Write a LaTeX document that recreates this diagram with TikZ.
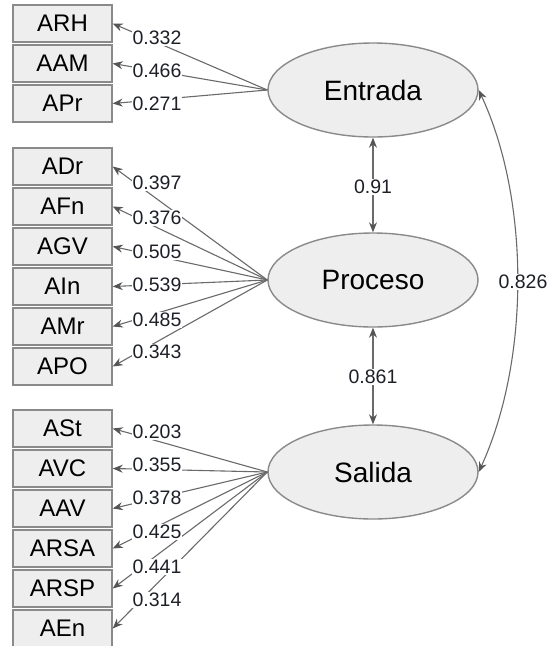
\documentclass[tikz,border=0pt]{standalone}
\usepackage{fontspec}
\setmainfont{Liberation Sans}
\usetikzlibrary{shapes.geometric,arrows.meta}
\definecolor{boxfill}{HTML}{EEEEEE}
\definecolor{boxline}{HTML}{8A8A8A}
\definecolor{edgeline}{HTML}{6A6A6A}
\definecolor{tipcol}{HTML}{555555}
\definecolor{labtext}{HTML}{1E2028}
\tikzset{
  obsbox/.style={draw=boxline, fill=boxfill, line width=1.4pt, rectangle,
    minimum width=99pt, minimum height=37pt, inner sep=0pt,
    font=\fontsize{24}{26}\selectfont, text=black},
  latent/.style={draw=boxline, fill=boxfill, line width=1.4pt, ellipse,
    minimum width=210pt, minimum height=94pt, inner sep=0pt,
    font=\fontsize{28}{30}\selectfont, text=black},
  load/.style={draw=edgeline, line width=1.1pt, -{Stealth[length=10pt,width=8pt,color=tipcol]}},
  cov/.style={draw=edgeline, line width=1.1pt, {Stealth[length=10pt,width=8pt,color=tipcol]}-{Stealth[length=10pt,width=8pt,color=tipcol]}},
  wlab/.style={fill=white, inner sep=0.8pt, text=labtext, font=\fontsize{19.5}{21}\selectfont}
}
\begin{document}
\begin{tikzpicture}[x=1pt,y=-1pt]
\useasboundingbox (0,0) rectangle (550,646);
\fill[white] (0,0) rectangle (550,646);
% latent variables
\node[latent] (ent) at (373,90) {Entrada};
\node[latent] (pro) at (373,280) {Proceso};
\node[latent] (sal) at (373,472) {Salida};
% indicators
\node[obsbox] (ARH) at (62.5,23.5) {ARH};
\node[obsbox] (AAM) at (62.5,63.5) {AAM};
\node[obsbox] (APr) at (62.5,103.5) {APr};
\node[obsbox] (ADr) at (62.5,166.5) {ADr};
\node[obsbox] (AFn) at (62.5,206.5) {AFn};
\node[obsbox] (AGV) at (62.5,246.5) {AGV};
\node[obsbox] (AIn) at (62.5,286.5) {AIn};
\node[obsbox] (AMr) at (62.5,326.5) {AMr};
\node[obsbox] (APO) at (62.5,366.5) {APO};
\node[obsbox] (ASt) at (62.5,428.5) {ASt};
\node[obsbox] (AVC) at (62.5,468.5) {AVC};
\node[obsbox] (AAV) at (62.5,508.5) {AAV};
\node[obsbox] (ARSA) at (62.5,548.5) {ARSA};
\node[obsbox] (ARSP) at (62.5,588.5) {ARSP};
\node[obsbox] (AEn) at (62.5,628.5) {AEn};
% loadings
\foreach \b in {ARH,AAM,APr} \draw[load] (ent.west) -- (\b.east);
\foreach \b in {ADr,AFn,AGV,AIn,AMr,APO} \draw[load] (pro.west) -- (\b.east);
\foreach \b in {ASt,AVC,AAV,ARSA,ARSP,AEn} \draw[load] (sal.west) -- (\b.east);
% covariances
\draw[cov] (ent.south) -- (pro.north);
\draw[cov] (pro.south) -- (sal.north);
\draw[cov] (ent.east) .. controls (530,200) and (530,360) .. (sal.east);
% labels
\node[wlab] (l1) at (157,38) {0.332};
\node[wlab] (l2) at (157,71) {0.466};
\node[wlab] (l3) at (157,104) {0.271};
\node[wlab] (l4) at (157,183) {0.397};
\node[wlab] (l5) at (157,218) {0.376};
\node[wlab] (l6) at (157,252) {0.505};
\node[wlab] (l7) at (157,285) {0.539};
\node[wlab] (l8) at (157,320) {0.485};
\node[wlab] (l9) at (157,352) {0.343};
\node[wlab] (l10) at (157,432) {0.203};
\node[wlab] (l11) at (157,465) {0.355};
\node[wlab] (l12) at (157,498) {0.378};
\node[wlab] (l13) at (157,532) {0.425};
\node[wlab] (l14) at (157,567) {0.441};
\node[wlab] (l15) at (157,600) {0.314};
\node[wlab] (l16) at (373,187) {0.91};
\node[wlab] (l17) at (373,377) {0.861};
\node[wlab] (l18) at (523,282) {0.826};
\end{tikzpicture}
\end{document}
